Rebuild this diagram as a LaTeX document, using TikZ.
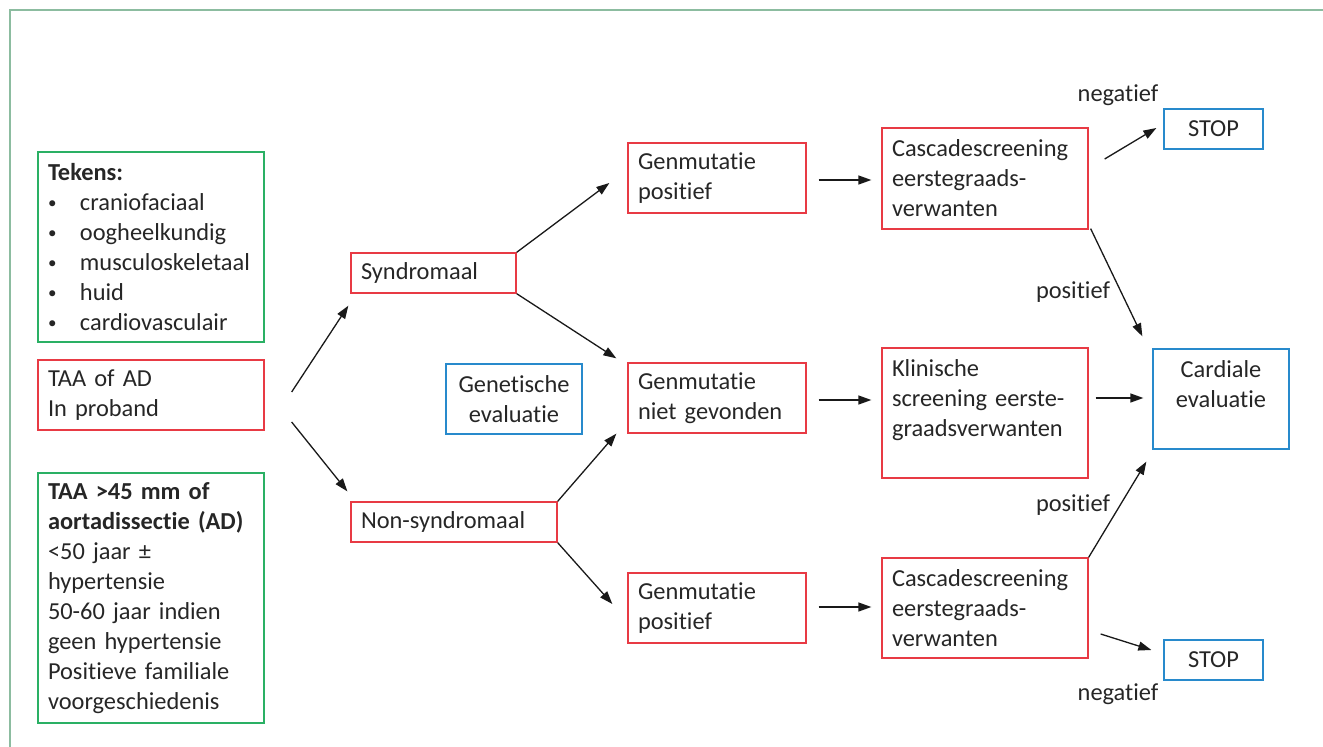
\documentclass[tikz,border=0pt]{standalone}
\usepackage{fontspec}
\setmainfont{Carlito}[RawFeature={-liga;-clig;-calt;-dlig}]
\usetikzlibrary{arrows.meta,calc}

\definecolor{boxred}{RGB}{232,58,68}
\definecolor{boxgreen}{RGB}{42,176,100}
\definecolor{boxblue}{RGB}{40,138,204}
\definecolor{framegreen}{RGB}{140,188,160}
\newcommand{\boxfont}{\fontsize{24.4}{30}\selectfont}
\newcommand{\bul}{\makebox[32pt][l]{\raisebox{1.5pt}{\fontsize{17}{30}\selectfont •}}}

\tikzset{every picture/.style={line width=1.2pt}}
\tikzset{
  box/.style={draw, line width=1.3pt, inner xsep=10pt, inner ysep=0pt, align=left, font=\boxfont, text=black!85},
  redbox/.style={box, draw=boxred},
  greenbox/.style={box, draw=boxgreen},
  bluebox/.style={box, draw=boxblue, align=center},
  flow/.style={-{Triangle[length=13pt,width=9pt]}, line width=1.3pt, black!90},
  lbl/.style={font=\boxfont, text=black!85, inner sep=0pt}
}

\begin{document}
\begin{tikzpicture}[x=1pt,y=1pt,yscale=-1,xscale=1]
\useasboundingbox (0,0) rectangle (1323,747);

%Frame
\draw [framegreen, line width=2pt] (10,747) -- (10,10) -- (1323,10);

% Left column
\node [greenbox, text width=206pt, minimum height=190pt] (tekens) at (151,247)
  {\textbf{Tekens:}\\\bul craniofaciaal\\\bul oogheelkundig\\\bul musculoskeletaal\\\bul huid\\\bul cardiovasculair};
\node [redbox, text width=206pt, minimum height=70pt] (proband) at (151,395)
  {TAA of AD\\In proband};
\node [greenbox, text width=206pt, minimum height=250pt] (criteria) at (151,598)
  {\textbf{TAA >45 mm of}\\\textbf{aortadissectie (AD)}\\<50 jaar ±\\hypertensie\\50-60 jaar indien\\geen hypertensie\\Positieve familiale\\voorgeschiedenis};

% Second column
\node [redbox, text width=145pt, minimum height=40pt] (syn) at (433.5,273) {Syndromaal};
\node [redbox, text width=186pt, minimum height=40pt] (nonsyn) at (454,522) {Non-syndromaal};
\node [bluebox, text width=116pt, minimum height=70pt] (geneval) at (514,399) {Genetische\\evaluatie};

% Third column
\node [redbox, text width=158pt, minimum height=70pt] (gmpos) at (717,178) {Genmutatie\\positief};
\node [redbox, text width=158pt, minimum height=70pt] (gmniet) at (717,398) {Genmutatie\\niet gevonden};
\node [redbox, text width=158pt, minimum height=70pt] (gmposb) at (717,608) {Genmutatie\\positief};

% Fourth column
\node [redbox, text width=186pt, minimum height=101pt] (cascade) at (985,178.5) {Cascadescreening\\eerstegraads-\\verwanten};
\node [redbox, text width=186pt, minimum height=130pt] (klin) at (985,413) {Klinische\\screening eerste-\\graadsverwanten\\\mbox{}};
\node [redbox, text width=186pt, minimum height=100pt] (cascadeb) at (985,608) {Cascadescreening\\eerstegraads-\\verwanten};

% Right column
\node [bluebox, text width=116pt, minimum height=100pt] (card) at (1221,399) {Cardiale\\evaluatie\\\mbox{}};
\node [bluebox, text width=79pt, minimum height=40pt] (stop) at (1213.5,129) {STOP};
\node [bluebox, text width=79pt, minimum height=40pt] (stopb) at (1213.5,660) {STOP};

% Text Node
\node [lbl] (neg) at (1118,95) {negatief};
\node [lbl] (pos) at (1073,292) {positief};
\node [lbl] (posb) at (1073,505) {positief};
\node [lbl] (negb) at (1118,694) {negatief};

%Straight Lines
\draw [flow] ($(proband.east)+(27,-3)$) -- ($(syn.south west)+(-2,12)$);
\draw [flow] ($(proband.east)+(27,27)$) -- ($(nonsyn.north west)+(-3,-10)$);
\draw [flow] (syn.north east) -- ($(gmpos.west)+(-18,5)$);
\draw [flow] (syn.south east) -- ($(gmniet.north west)+(-11,-4)$);
\draw [flow] (nonsyn.north east) -- ($(gmniet.south west)+(-11,0)$);
\draw [flow] (nonsyn.south east) -- ($(gmposb.west)+(-15,-4)$);
\draw [flow] ($(gmpos.east)+(12,2)$) -- ($(gmpos.east -| cascade.west)+(-10,2)$);
\draw [flow] ($(gmniet.east)+(12,2)$) -- ($(gmniet.east -| klin.west)+(-10,2)$);
\draw [flow] ($(gmposb.east)+(12,-1)$) -- ($(cascadeb.west)+(-10,-1)$);
\draw [flow] ($(cascade.east)+(16,-19.5)$) -- ($(stop.west)+(-7,-1)$);
\draw [flow] ($(cascade.south east)+(2,-1)$) -- ($(card.north west)+(-10,-12)$);
\draw [flow] ($(klin.east |- card.west)+(7,-1)$) -- ($(card.west)+(-9,-1)$);
\draw [flow] (cascadeb.north east) -- ($(card.south west)+(-6,12)$);
\draw [flow] ($(cascadeb.east)+(12,26)$) -- ($(stopb.west)+(-12,-10)$);

\end{tikzpicture}
\end{document}
